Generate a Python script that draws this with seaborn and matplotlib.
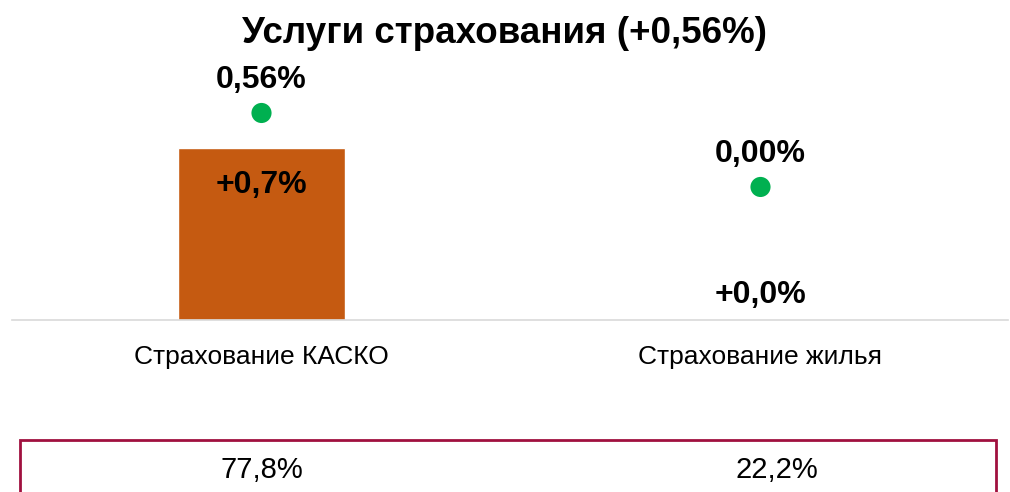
import matplotlib
matplotlib.use("Agg")
import matplotlib.pyplot as plt
import seaborn as sns
import pandas as pd
from matplotlib.patches import Rectangle

# Данные
categories = ["Страхование КАСКО", "Страхование жилья"]
contrib = [0.7, 0.0]        # вклад, столбцы
growth = [0.56, 0.00]       # рост цен, точки
shares = [77.8, 22.2]       # доля в группе
title = "Услуги страхования (+0,56%)"

sns.set_theme(style="white")
plt.rcParams['font.family'] = ['Liberation Sans', 'DejaVu Sans']

df = pd.DataFrame({"cat": categories, "contrib": contrib, "growth": growth})

def fmt(v, nd, sign=False):
    s = f"{v:+.{nd}f}" if sign else f"{v:.{nd}f}"
    return s.replace(".", ",") + "%"

fig = plt.figure(figsize=(10.1, 4.92), dpi=100)
ax = fig.add_axes([12 / 1010, 1 - 320 / 492, 996 / 1010, 260 / 492])

sns.barplot(data=df, x="cat", y="contrib", color="#c55a11", width=0.335,
            saturation=1, ax=ax)
ax.set_ylim(0, 1.058)
ax.set_xlim(-0.5, 1.496)

ax2 = ax.twinx()
sns.scatterplot(data=df, x="cat", y="growth", color="#00b050", s=210,
                edgecolor="none", ax=ax2, zorder=3)
ax2.set_ylim(-1.007, 0.961)

# подписи столбцов
for i, v in enumerate(contrib):
    off = -37 if v > 0.1 else 25
    ax.annotate(fmt(v, 1, True), (i, v), xytext=(0, off), textcoords="offset pixels",
                ha="center", va="center", fontsize=23, fontweight="bold", color="black")

# подписи точек
for i, v in enumerate(growth):
    ax2.annotate(fmt(v, 2), (i, v), xytext=(0, 33), textcoords="offset pixels",
                 ha="center", va="center", fontsize=23, fontweight="bold", color="black")

for a in (ax, ax2):
    a.set_xlabel("")
    a.set_ylabel("")
    a.set_yticks([])
    for side in ("top", "left", "right"):
        a.spines[side].set_visible(False)
ax2.spines["bottom"].set_visible(False)
ax.spines["bottom"].set_color("#d9d9d9")
ax.spines["bottom"].set_linewidth(1.2)
ax.tick_params(axis="x", length=0, pad=18, labelsize=19, labelcolor="black")

fig.text(0.5, 1 - 33 / 492, title, ha="center", va="center",
         fontsize=26.5, fontweight="bold", color="black")

# рамка с долями
fig.patches.append(Rectangle((20 / 1010, -0.05), 976 / 1010, 0.05 + (492 - 440) / 492,
                             transform=fig.transFigure, fill=False,
                             edgecolor="#a0103f", linewidth=2, clip_on=False))
share_x = [262, 777]
for xp, s in zip(share_x, shares):
    fig.text(xp / 1010, 1 - 470 / 492, fmt(s, 1), ha="center", va="center",
             fontsize=21, color="black")

fig.savefig("out.png", dpi=100)
